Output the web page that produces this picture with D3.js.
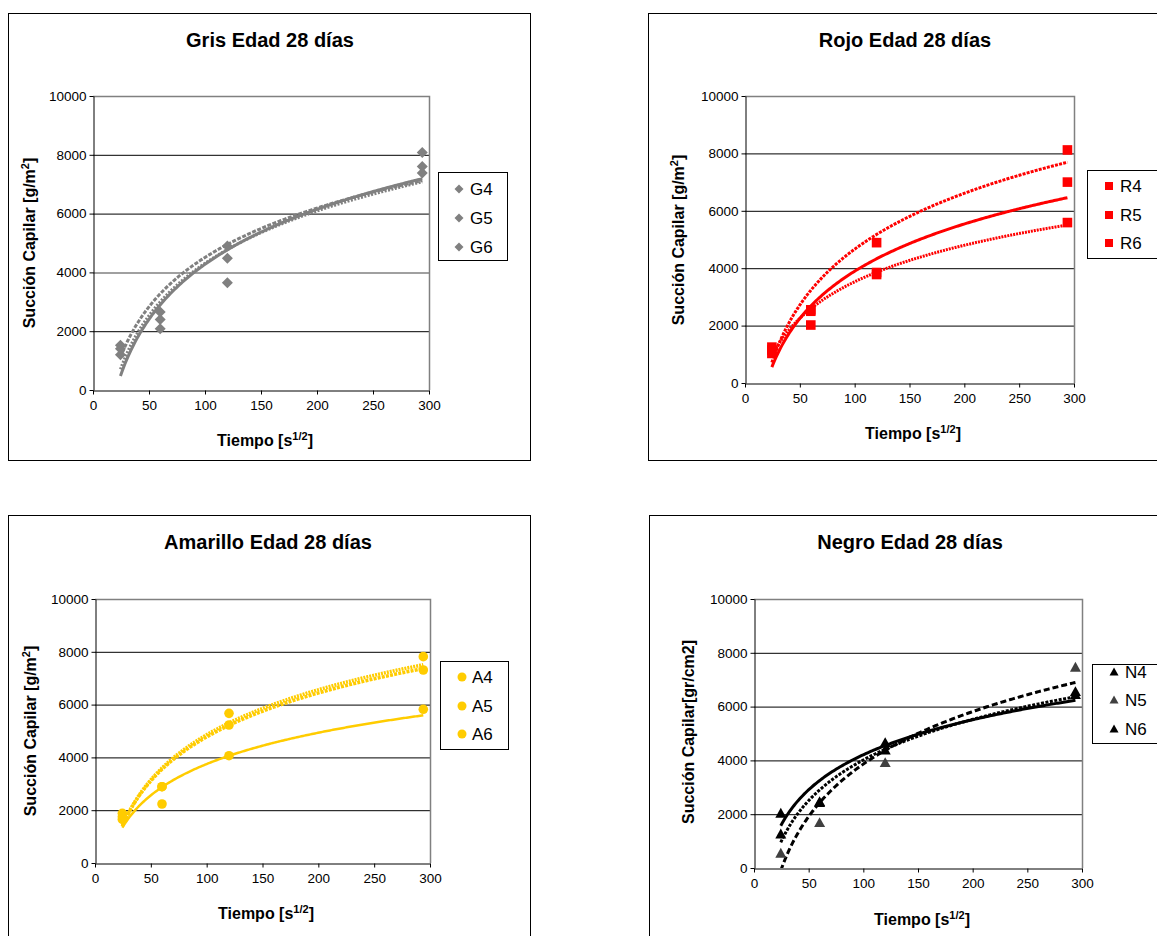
<!DOCTYPE html>
<html><head><meta charset="utf-8">
<script src="https://cdnjs.cloudflare.com/ajax/libs/d3/7.8.5/d3.min.js"></script>
<style>body{margin:0;background:#fff;} svg{display:block;font-family:"Liberation Sans",Arial,sans-serif;}</style>
</head><body><svg id="c" width="1157" height="936"></svg>
<script>
// ---------- data ----------
const tiempo = [24.5, 60, 120, 294];          // sqrt(s)
const xTickValues = [0, 50, 100, 150, 200, 250, 300];
const yTickValues = [0, 2000, 4000, 6000, 8000, 10000];

const grisNames = ["G4", "G5", "G6"];
const grisG4 = [1520, 2650, 4900, 7380];
const grisG5 = [1400, 2080, 4480, 7600];
const grisG6 = [1200, 2400, 3650, 8080];

const rojoNames = ["R4", "R5", "R6"];
const rojoR4 = [1250, 2550, 4890, 8120];
const rojoR5 = [1150, 2020, 3850, 7000];
const rojoR6 = [1030, 2500, 3780, 5590];

const amarilloNames = ["A4", "A5", "A6"];
const amarilloA4 = [1652, 2891, 5669, 7311];
const amarilloA5 = [1880, 2891, 5227, 7816];
const amarilloA6 = [1750, 2235, 4064, 5822];

const negroNames = ["N4", "N5", "N6"];
const negroN4 = [2033, 2465, 4658, 6450];
const negroN5 = [546, 1684, 3915, 7460];
const negroN6 = [1264, 2428, 4387, 6554];

// ---------- layout / style ----------
const svg = d3.select("#c");

const panels = [
  { title: "Gris Edad 28 días", frame: [8, 13, 522, 447], plot: [93, 96, 429, 390],
    titleXY: [270, 47], ylab: ["Succión Capilar [g/m", "2", "]"], ylabXY: [30, 243], xlabXY: [265, 446],
    legend: [438, 172, 69, 88], legY: [189, 218, 247], legMX: 459, legTX: 470,
    names: grisNames, series: [grisG4, grisG5, grisG6], shape: "diamond",
    colors: ["#808080", "#808080", "#808080"], lineColors: ["#808080", "#808080", "#808080"],
    dash: ["4,1.5", "2,1.5", null], widths: [3, 3, 3], gridGray: [4000] },
  { title: "Rojo Edad 28 días", frame: [648, 13, 520, 447], plot: [745, 96, 1074, 383],
    titleXY: [905, 47], ylab: ["Succión Capilar [g/m", "2", "]"], ylabXY: [679, 240], xlabXY: [913, 439],
    legend: [1087, 170, 80, 88], legY: [186, 215, 243], legMX: 1109, legTX: 1120,
    names: rojoNames, series: [rojoR4, rojoR5, rojoR6], shape: "square",
    colors: ["#ff0000", "#ff0000", "#ff0000"], lineColors: ["#ff0000", "#ff0000", "#ff0000"],
    dash: ["3,1.2", null, "2,1"], widths: [3, 3, 3], gridGray: [] },
  { title: "Amarillo Edad 28 días", frame: [8, 515, 522, 430], plot: [95, 599, 430, 863],
    titleXY: [268, 549], ylab: ["Succión Capilar [g/m", "2", "]"], ylabXY: [31, 731], xlabXY: [266, 919],
    legend: [440, 661, 68, 88], legY: [677, 706, 734], legMX: 462, legTX: 472,
    names: amarilloNames, series: [amarilloA4, amarilloA5, amarilloA6], shape: "circle",
    colors: ["#ffcc00", "#ffcc00", "#ffcc00"], lineColors: ["#ffcc00", "#ffcc00", "#ffcc00"],
    dash: ["3,1.2", "2,1", null], widths: [3.5, 3.5, 2.5], gridGray: [] },
  { title: "Negro Edad 28 días", frame: [649, 515, 520, 430], plot: [754, 599, 1082, 868],
    titleXY: [910, 549], ylab: ["Succión Capilar[gr/cm2]"], ylabXY: [689, 732], xlabXY: [922, 925],
    legend: [1092, 664, 80, 79], legY: [672, 700, 729], legMX: 1114, legTX: 1125,
    names: negroNames, series: [negroN4, negroN5, negroN6], shape: "triangle",
    colors: ["#000000", "#404040", "#000000"], lineColors: ["#000000", "#000000", "#000000"],
    dash: [null, "6,3", "3,1.5"], widths: [3, 3, 3], gridGray: [] }
];

function logFit(xs, ys) {
  const lx = xs.map(Math.log);
  const mx = d3.mean(lx), my = d3.mean(ys);
  let sxy = 0, sxx = 0;
  lx.forEach((v, i) => { sxy += (v - mx) * (ys[i] - my); sxx += (v - mx) * (v - mx); });
  const a = sxy / sxx;
  return { a, b: my - a * mx };
}

function marker(g, shape, cx, cy, r, color) {
  if (shape === "diamond") {
    g.append("path").attr("d", `M${cx},${cy - r}L${cx + r},${cy}L${cx},${cy + r}L${cx - r},${cy}Z`).attr("fill", color);
  } else if (shape === "square") {
    g.append("rect").attr("x", cx - r).attr("y", cy - r).attr("width", 2 * r).attr("height", 2 * r).attr("fill", color);
  } else if (shape === "circle") {
    g.append("circle").attr("cx", cx).attr("cy", cy).attr("r", r).attr("fill", color);
  } else {
    g.append("path").attr("d", `M${cx},${cy - r}L${cx + r},${cy + r * 0.8}L${cx - r},${cy + r * 0.8}Z`).attr("fill", color);
  }
}

panels.forEach((p, pi) => {
  const g = svg.append("g");
  const [fx, fy, fw, fh] = p.frame;
  g.append("rect").attr("x", fx + 0.5).attr("y", fy + 0.5).attr("width", fw).attr("height", fh)
    .attr("fill", "#fff").attr("stroke", "#000").attr("stroke-width", 1);

  const [L, T, R, B] = p.plot;
  const x = d3.scaleLinear().domain([0, 300]).range([L, R]);
  const y = d3.scaleLinear().domain([0, 10000]).range([B, T]);

  svg.append("clipPath").attr("id", "clip" + pi).append("rect")
    .attr("x", L).attr("y", T).attr("width", R - L).attr("height", B - T);

  // gridlines
  g.append("g").selectAll("line").data(yTickValues.filter(v => v > 0 && v < 10000)).join("line")
    .attr("x1", L).attr("x2", R).attr("y1", d => y(d) + 0.5).attr("y2", d => y(d) + 0.5)
    .attr("stroke", d => p.gridGray.includes(d) ? "#808080" : "#000").attr("stroke-width", d => p.gridGray.includes(d) ? 1.5 : 1);
  // top & right border
  g.append("path").attr("d", `M${L},${T + 0.5}H${R + 0.5}V${B}`).attr("fill", "none")
    .attr("stroke", "#808080").attr("stroke-width", 1.5);

  // axes
  const ya = g.append("g").attr("transform", `translate(${L + 0.5},0)`)
    .call(d3.axisLeft(y).tickValues(yTickValues).tickSize(4).tickSizeOuter(0).tickPadding(3).tickFormat(d3.format("d")));
  const xa = g.append("g").attr("transform", `translate(0,${B + 0.5})`)
    .call(d3.axisBottom(x).tickValues(xTickValues).tickSize(4).tickSizeOuter(0).tickPadding(6).tickFormat(d3.format("d")));
  [ya, xa].forEach(a => {
    a.selectAll("text").attr("font-size", 13.5).attr("fill", "#000").attr("font-family", "Liberation Sans, Arial, sans-serif");
    a.selectAll("line,path").attr("stroke", "#000");
  });

  // title
  g.append("text").attr("x", p.titleXY[0]).attr("y", p.titleXY[1]).attr("text-anchor", "middle")
    .attr("font-size", 20).attr("font-weight", "bold").text(p.title);

  // x label
  const xl = g.append("text").attr("x", p.xlabXY[0]).attr("y", p.xlabXY[1]).attr("text-anchor", "middle")
    .attr("font-size", 16).attr("font-weight", "bold");
  xl.append("tspan").text("Tiempo [s");
  xl.append("tspan").attr("dy", -6).attr("font-size", 11).text("1/2");
  xl.append("tspan").attr("dy", 6).text("]");

  // y label
  const yl = g.append("text").attr("transform", `translate(${p.ylabXY[0]},${p.ylabXY[1]}) rotate(-90)`)
    .attr("text-anchor", "middle").attr("dy", 5).attr("font-size", 16).attr("font-weight", "bold");
  yl.append("tspan").text(p.ylab[0]);
  if (p.ylab.length > 1) {
    yl.append("tspan").attr("dy", -6).attr("font-size", 11).text(p.ylab[1]);
    yl.append("tspan").attr("dy", 6).text(p.ylab[2]);
  }

  // trendlines (logarithmic fit of each series)
  const line = d3.line().x(d => x(d[0])).y(d => y(d[1]));
  const x0 = tiempo[0], x1 = tiempo[tiempo.length - 1];
  const tg = g.append("g").attr("clip-path", `url(#clip${pi})`);
  p.series.forEach((s, i) => {
    const f = logFit(tiempo, s);
    const pts = d3.range(x0, x1 + 0.001, (x1 - x0) / 200).map(t => [t, f.a * Math.log(t) + f.b]);
    tg.append("path").attr("d", line(pts)).attr("fill", "none")
      .attr("stroke", p.lineColors[i]).attr("stroke-width", p.widths[i])
      .attr("stroke-dasharray", p.dash[i]);
  });

  // markers
  const mr = { diamond: 5.5, square: 4.8, circle: 4.8, triangle: 5.5 }[p.shape];
  p.series.forEach((s, i) => {
    s.forEach((v, j) => marker(g, p.shape, x(tiempo[j]), y(v), mr, p.colors[i]));
  });

  // legend
  const [lx, ly, lw, lh] = p.legend;
  g.append("rect").attr("x", lx + 0.5).attr("y", ly + 0.5).attr("width", lw).attr("height", lh)
    .attr("fill", "#fff").attr("stroke", "#000");
  p.names.forEach((n, i) => {
    marker(g, p.shape, p.legMX, p.legY[i], p.shape === "square" ? 4 : 4.5, p.colors[i]);
    g.append("text").attr("x", p.legTX).attr("y", p.legY[i] + 6).attr("font-size", 17).text(n);
  });
});
</script></body></html>
